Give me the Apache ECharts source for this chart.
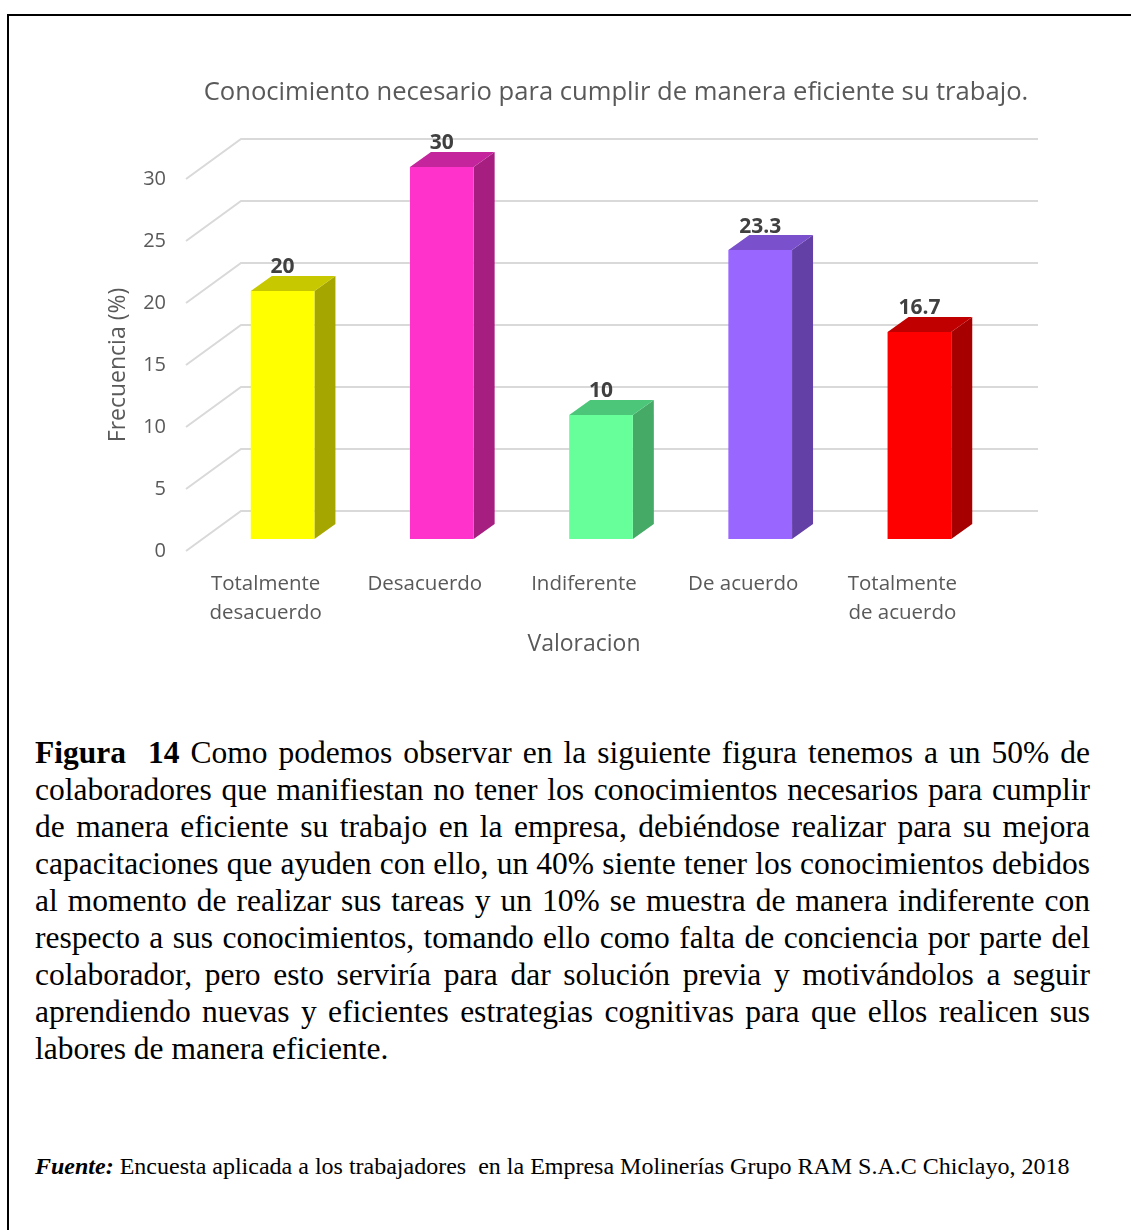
<!DOCTYPE html>
<html>
<head>
<meta charset="utf-8">
<script src="https://cdn.jsdelivr.net/npm/echarts@6/dist/echarts.min.js"></script>
<style>
  html, body { margin:0; padding:0; background:#fff; }
  body { width:1131px; height:1230px; position:relative; overflow:hidden; }
  #frame { position:absolute; left:7px; top:14px; width:1130px; height:1230px; border-top:2px solid #000; border-left:2px solid #000; box-sizing:border-box; }
  #chart { position:absolute; left:0; top:0; width:1131px; height:700px; }
  #caption { position:absolute; left:35px; top:734px; width:1055px; font-family:"Liberation Serif","Times New Roman",serif; font-size:31.5px; line-height:37px; color:#000; }
  #caption div { text-align:justify; text-align-last:justify; white-space:nowrap; }
  #caption div.last { text-align-last:left; }
  #fuente { position:absolute; left:35px; top:1151px; font-family:"Liberation Serif","Times New Roman",serif; font-size:24px; line-height:30px; color:#000; white-space:nowrap; }
</style>
</head>
<body>
<div id="frame"></div>
<div id="chart"></div>
<div id="caption">
  <div><b>Figura&nbsp; 14</b> Como podemos observar en la siguiente figura tenemos a un 50% de</div>
  <div>colaboradores que manifiestan no tener los conocimientos necesarios para cumplir</div>
  <div>de manera eficiente su trabajo en la empresa, debiéndose realizar para su mejora</div>
  <div>capacitaciones que ayuden con ello, un 40% siente tener los conocimientos debidos</div>
  <div>al momento de realizar sus tareas y un 10% se muestra de manera indiferente con</div>
  <div>respecto a sus conocimientos, tomando ello como falta de conciencia por parte del</div>
  <div>colaborador, pero esto serviría para dar solución previa y motivándolos a seguir</div>
  <div>aprendiendo nuevas y eficientes estrategias cognitivas para que ellos realicen sus</div>
  <div class="last">labores de manera eficiente.</div>
</div>
<div id="fuente"><b><i>Fuente:</i></b> Encuesta aplicada a los trabajadores&nbsp; en la Empresa Molinerías Grupo RAM S.A.C Chiclayo, 2018</div>
<script>
// ---- data ----
var categories = ['Totalmente\ndesacuerdo', 'Desacuerdo', 'Indiferente', 'De acuerdo', 'Totalmente\nde acuerdo'];
var values = [20, 30, 10, 23.3, 16.7];
var yTicks = [0, 5, 10, 15, 20, 25, 30];
var chartTitle = 'Conocimiento necesario para cumplir de manera eficiente su trabajo.';
var xAxisName = 'Valoracion';
var yAxisName = 'Frecuencia (%)';

// ---- styles ----
var frontColors = ['#ffff00', '#ff33cc', '#66ff99', '#9966ff', '#ff0000'];
var topColors   = ['#c8c800', '#c4259c', '#4cc77a', '#7a50cc', '#c00000'];
var sideColors  = ['#a6a600', '#a61f80', '#45aa66', '#6340a6', '#a60000'];
var FONT = '"Open Sans", Lato, sans-serif';

var chart = echarts.init(document.getElementById('chart'));

function gridRender(params, api) {
  var v = api.value(0);
  var cs = params.coordSys;
  var y = api.coord([0, v])[1];
  var x0 = cs.x;
  return {
    type: 'polyline',
    shape: { points: [[x0, y], [x0 + 55, y - 40], [x0 + 852, y - 40]] },
    style: { stroke: '#d9d9d9', lineWidth: 2, fill: null }
  };
}

function barRender(params, api) {
  var i = api.value(0);
  var v = api.value(1);
  var p0 = api.coord([i, 0]);
  var p1 = api.coord([i, v]);
  var bw = api.size([1, 0])[0] * 0.4;
  var cx = p0[0] + 17;
  var xl = cx - bw / 2, xr = cx + bw / 2;
  var yb = p0[1] - 12, yt = p1[1] - 12;
  var dx = 21, dy = 15;
  return {
    type: 'group',
    children: [
      { type: 'polygon', shape: { points: [[xr, yt], [xr + dx, yt - dy], [xr + dx, yb - dy], [xr, yb]] },
        style: { fill: sideColors[i] } },
      { type: 'polygon', shape: { points: [[xl, yt], [xl + dx, yt - dy], [xr + dx, yt - dy], [xr, yt]] },
        style: { fill: topColors[i] } },
      { type: 'rect', shape: { x: xl, y: yt, width: bw, height: yb - yt },
        style: { fill: frontColors[i] } },
      { type: 'text', x: cx, y: yt - dy + 2,
        style: { text: String(v), fill: '#404040', font: 'bold 21px ' + FONT, align: 'center', verticalAlign: 'bottom' } }
    ]
  };
}

chart.setOption({
  animation: false,
  title: {
    text: chartTitle, left: 611, top: 75, textAlign: 'center',
    textStyle: { fontFamily: FONT, fontSize: 25.6, fontWeight: 'normal', color: '#595959' }
  },
  grid: { left: 186, right: 149, top: 179, bottom: 149 },
  xAxis: {
    type: 'category', data: categories,
    name: xAxisName, nameLocation: 'middle', nameGap: 77,
    nameTextStyle: { fontFamily: FONT, fontSize: 23, color: '#595959' },
    axisLine: { show: false }, axisTick: { show: false },
    axisLabel: { fontFamily: FONT, fontSize: 20.5, color: '#595959', lineHeight: 29, margin: 19, interval: 0 }
  },
  yAxis: {
    type: 'value', min: 0, max: 30, interval: 5,
    name: yAxisName, nameLocation: 'middle', nameGap: 56,
    nameTextStyle: { fontFamily: FONT, fontSize: 23, color: '#595959' },
    axisLine: { show: false }, axisTick: { show: false }, splitLine: { show: false },
    axisLabel: { fontFamily: FONT, fontSize: 20, color: '#595959', margin: 20, padding: [4, 0, 0, 0] }
  },
  series: [
    { type: 'custom', z: 1, renderItem: gridRender, data: yTicks.map(function (t) { return [t]; }), silent: true },
    { type: 'custom', z: 2, renderItem: barRender, data: values.map(function (v, i) { return [i, v]; }) }
  ]
});
</script>
</body>
</html>
